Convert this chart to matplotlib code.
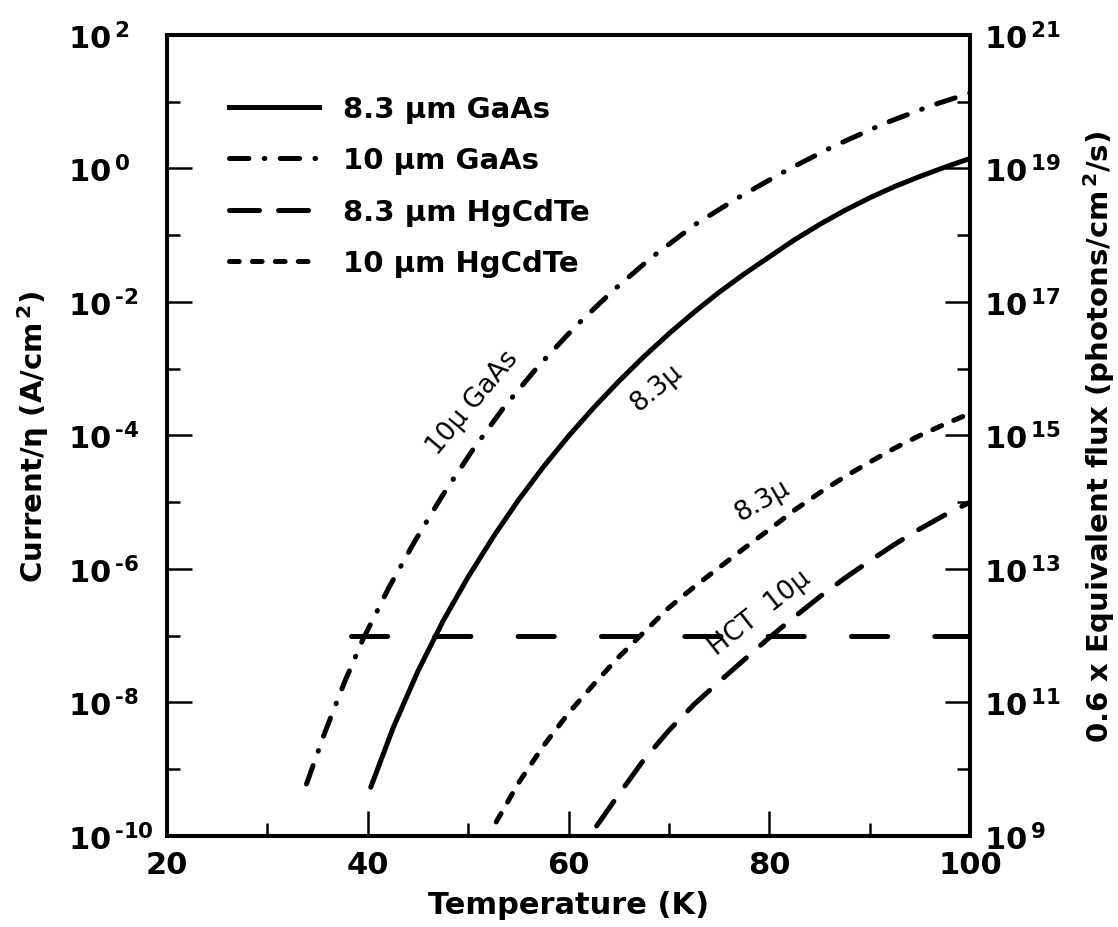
import matplotlib
matplotlib.use("Agg")
import matplotlib.pyplot as plt
import numpy as np
from matplotlib.ticker import FixedLocator, FixedFormatter, NullFormatter
from matplotlib.lines import Line2D

plt.rcParams.update({
    'font.family': 'DejaVu Sans',
    'mathtext.fontset': 'dejavusans',
    'mathtext.default': 'bf',
    'lines.scale_dashes': False,
})

# values: temperature (K) and log10 of current/eta (A/cm^2)
t_gaas83 = [40.3, 42.5, 45.0, 47.5, 50.0, 52.5, 55.0, 57.5, 60.0, 62.5, 65.0, 67.5, 70.0, 72.5, 75.0, 77.5, 80.0, 82.5, 85.0, 87.5, 90.0, 92.5, 95.0, 97.5, 100.0]
lg_gaas83 = [-9.27, -8.39, -7.53, -6.78, -6.12, -5.52, -4.97, -4.47, -4.01, -3.585, -3.19, -2.82, -2.475, -2.155, -1.855, -1.58, -1.325, -1.07, -0.84, -0.63, -0.44, -0.27, -0.12, 0.02, 0.15]

t_gaas10 = [33.9, 35.7, 37.7, 39.5, 42.1, 44.7, 47.4, 50.3, 53.5, 57.0, 60.6, 64.5, 68.3, 72.6, 77.1, 81.7, 86.3, 91.3, 96.1, 100.0]
lg_gaas10 = [-9.22, -8.46, -7.69, -7.06, -6.28, -5.58, -4.91, -4.25, -3.59, -2.96, -2.38, -1.82, -1.33, -0.84, -0.42, -0.03, 0.325, 0.665, 0.94, 1.13]

# long-dash curve (labelled "HCT 10u")
t_hct_long = [62.8, 65.0, 67.5, 70.0, 72.5, 75.0, 77.5, 80.0, 82.5, 85.0, 87.5, 90.0, 92.5, 95.0, 97.5, 100.0]
lg_hct_long = [-9.85, -9.38, -8.86, -8.42, -8.03, -7.69, -7.36, -7.03, -6.72, -6.42, -6.14, -5.88, -5.63, -5.40, -5.19, -5.00]

# short-dash curve (labelled "8.3u")
t_hct_short = [52.8, 55.0, 57.5, 60.0, 62.5, 65.0, 67.5, 70.0, 72.5, 75.0, 77.5, 80.0, 82.5, 85.0, 87.5, 90.0, 92.5, 95.0, 97.5, 100.0]
lg_hct_short = [-9.79, -9.21, -8.65, -8.16, -7.73, -7.32, -6.95, -6.58, -6.27, -5.98, -5.69, -5.41, -5.12, -4.86, -4.62, -4.40, -4.19, -4.00, -3.83, -3.67]

# horizontal reference level
t_level = [38.3, 100.0]
lg_level = [-7.0, -7.0]

legend_labels = ['8.3 \u00b5m GaAs', '10 \u00b5m GaAs', '8.3 \u00b5m HgCdTe', '10 \u00b5m HgCdTe']

# curve annotations: text, T, log10(y), rotation
notes = [
    ('10\u03bc GaAs', 50.5, -3.5, 50),
    ('8.3\u03bc', 68.8, -3.27, 40),
    ('8.3\u03bc', 79.3, -4.96, 30),
    ('HCT  10\u03bc', 79.1, -6.65, 38),
]

left_exp = list(range(-10, 3))
right_offset = 19


def exp_label(e):
    # short hyphen instead of the wide mathtext minus
    s = str(e).replace('-', '\u2010')
    return r'$10^{\,%s}$' % s


fig = plt.figure(figsize=(11.18, 9.28), dpi=100)
ax = fig.add_axes([0.1494, 0.0981, 0.7182, 0.8631])

lw = 3.6
dash_dot = (0, (14, 11, 0.5, 11))
long_dash = (0, (21.6, 13.7))
short_dash = (0, (7, 9.5))

ax.plot(t_gaas83, 10 ** np.array(lg_gaas83), color='black', lw=lw, solid_capstyle='round')
ax.plot(t_gaas10, 10 ** np.array(lg_gaas10), color='black', lw=lw, linestyle=dash_dot, dash_capstyle='round')
ax.plot(t_hct_long, 10 ** np.array(lg_hct_long), color='black', lw=lw, linestyle=long_dash, dash_capstyle='round')
ax.plot(t_hct_short, 10 ** np.array(lg_hct_short), color='black', lw=lw, linestyle=short_dash, dash_capstyle='round')
ax.plot(t_level, 10 ** np.array(lg_level), color='black', lw=lw, linestyle=(0, (26, 34)), dash_capstyle='round')

for txt, t, lg, rot in notes:
    ax.text(t, 10 ** lg, txt, rotation=rot, ha='center', va='center',
            rotation_mode='anchor', fontsize=19, fontweight='normal')

ax.set_yscale('log')
ax.set_xlim(20, 100)
ax.set_ylim(1e-10, 1e2)

# legend with proxy handles
handles = [
    Line2D([], [], color='black', lw=lw),
    Line2D([], [], color='black', lw=lw, linestyle=dash_dot, dash_capstyle='round'),
    Line2D([], [], color='black', lw=lw, linestyle=long_dash, dash_capstyle='round'),
    Line2D([], [], color='black', lw=lw, linestyle=short_dash, dash_capstyle='round'),
]
ax.legend(handles, legend_labels, loc='upper left', bbox_to_anchor=(0.077, 0.925),
          frameon=False, borderpad=0, borderaxespad=0, handlelength=3.1,
          handletextpad=0.8, labelspacing=0.8, prop={'weight': 'bold', 'size': 21})

# x ticks
ax.xaxis.set_major_locator(FixedLocator([20, 40, 60, 80, 100]))
ax.xaxis.set_minor_locator(FixedLocator([30, 50, 70, 90]))
ax.tick_params(axis='x', which='major', direction='in', length=18, width=1.8,
               labelsize=22, pad=10, top=False)
ax.tick_params(axis='x', which='minor', direction='in', length=9.5, width=1.8, top=False)
for lab in ax.get_xticklabels():
    lab.set_fontweight('bold')

# left y ticks
maj_left = [e for e in left_exp if e % 2 == 0]
min_left = [e for e in left_exp if e % 2 != 0]
ax.yaxis.set_major_locator(FixedLocator([10.0 ** e for e in maj_left]))
ax.yaxis.set_major_formatter(FixedFormatter([exp_label(e) for e in maj_left]))
ax.yaxis.set_minor_locator(FixedLocator([10.0 ** e for e in min_left]))
ax.yaxis.set_minor_formatter(NullFormatter())
ax.tick_params(axis='y', which='major', direction='in', length=18, width=1.8,
               labelsize=22, pad=71, right=False)
ax.tick_params(axis='y', which='minor', direction='in', length=9.5, width=1.8, right=False)
for lab in ax.get_yticklabels():
    lab.set_horizontalalignment('left')

ax.set_xlabel('Temperature (K)', fontsize=22, fontweight='bold')
ax.xaxis.set_label_coords(0.5, -0.068)
ax.set_ylabel('Current/\u03b7 (A/cm$^{\\,2}$)', fontsize=21, fontweight='bold')
ax.yaxis.set_label_coords(-0.145, 0.5)

# right axis: flux = current scaled by 10^19
ax2 = ax.twinx()
ax2.set_yscale('log')
ax2.set_ylim(10.0 ** (left_exp[0] + right_offset), 10.0 ** (left_exp[-1] + right_offset))
maj_right = [e + right_offset for e in maj_left]
min_right = [e + right_offset for e in min_left]
ax2.yaxis.set_major_locator(FixedLocator([10.0 ** e for e in maj_right]))
ax2.yaxis.set_major_formatter(FixedFormatter([exp_label(e) for e in maj_right]))
ax2.yaxis.set_minor_locator(FixedLocator([10.0 ** e for e in min_right]))
ax2.yaxis.set_minor_formatter(NullFormatter())
ax2.tick_params(axis='y', which='major', direction='in', length=18, width=1.8,
                labelsize=22, pad=10)
ax2.tick_params(axis='y', which='minor', direction='in', length=9.5, width=1.8)
ax2.set_ylabel('0.6 x Equivalent flux (photons/cm$^{\\,2}$/s)', fontsize=21, fontweight='bold')
ax2.yaxis.set_label_coords(1.139, 0.5)

for a in (ax, ax2):
    for sp in a.spines.values():
        sp.set_linewidth(2.9)

fig.savefig('out.png', dpi=100)
